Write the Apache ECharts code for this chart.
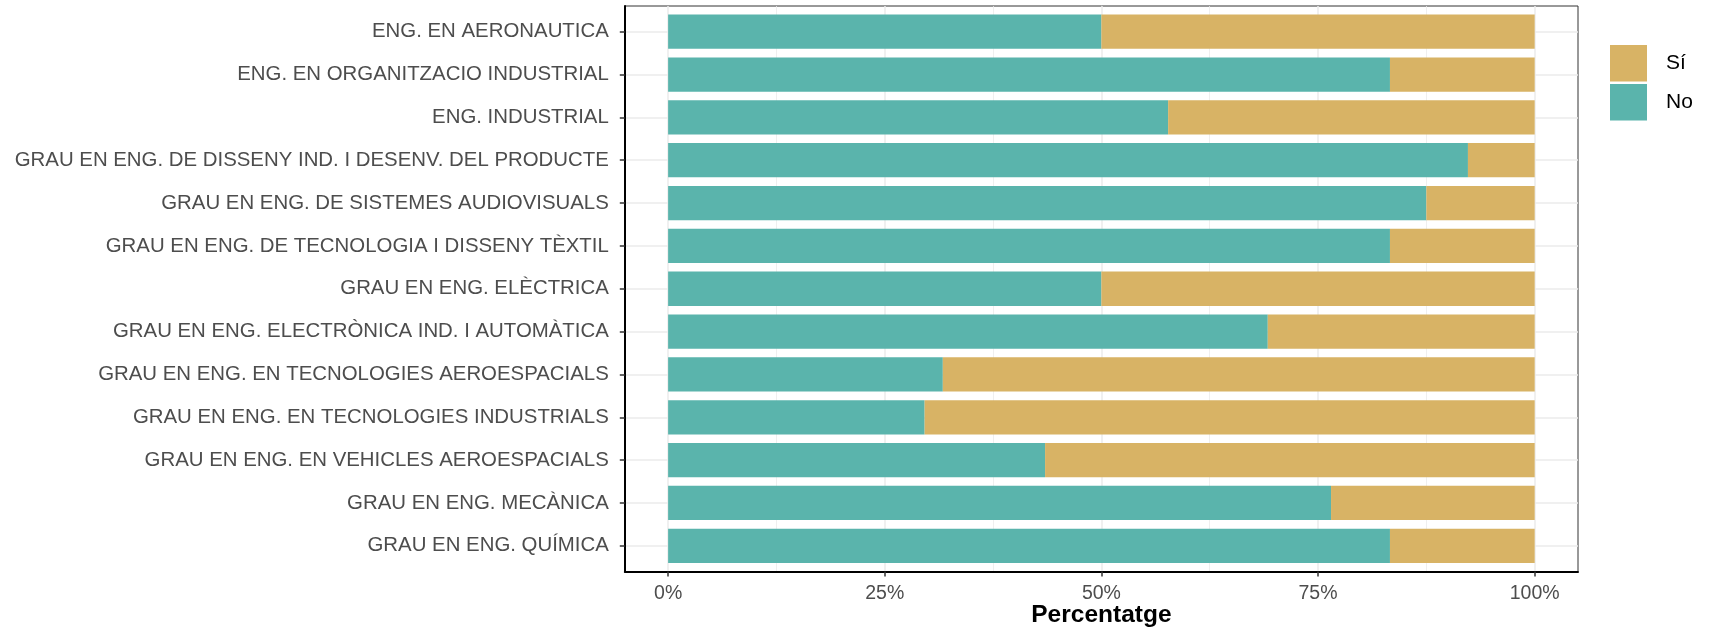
<!DOCTYPE html>
<html>
<head>
<meta charset="utf-8">
<script src="https://cdn.jsdelivr.net/npm/echarts@6/dist/echarts.min.js"></script>
<style>
html,body{margin:0;padding:0;background:#fff;}
#chart{width:1709px;height:632px;}
</style>
</head>
<body>
<div id="chart"></div>
<script>
const categories = [
  "ENG. EN AERONAUTICA",
  "ENG. EN ORGANITZACIO INDUSTRIAL",
  "ENG. INDUSTRIAL",
  "GRAU EN ENG. DE DISSENY IND. I DESENV. DEL PRODUCTE",
  "GRAU EN ENG. DE SISTEMES AUDIOVISUALS",
  "GRAU EN ENG. DE TECNOLOGIA I DISSENY TÈXTIL",
  "GRAU EN ENG. ELÈCTRICA",
  "GRAU EN ENG. ELECTRÒNICA IND. I AUTOMÀTICA",
  "GRAU EN ENG. EN TECNOLOGIES AEROESPACIALS",
  "GRAU EN ENG. EN TECNOLOGIES INDUSTRIALS",
  "GRAU EN ENG. EN VEHICLES AEROESPACIALS",
  "GRAU EN ENG. MECÀNICA",
  "GRAU EN ENG. QUÍMICA"
];
const noValues = [50, 83.3, 57.7, 92.3, 87.5, 83.3, 50, 69.2, 31.7, 29.6, 43.5, 76.5, 83.3];
const siValues = [50, 16.7, 42.3, 7.7, 12.5, 16.7, 50, 30.8, 68.3, 70.4, 56.5, 23.5, 16.7];
const xMajorTicks = [0, 25, 50, 75, 100];
const xMinorTicks = [12.5, 37.5, 62.5, 87.5];
const categoryPositions = [0, 1, 2, 3, 4, 5, 6, 7, 8, 9, 10, 11, 12];
const seriesNames = ["Sí", "No"];
const xAxisTitle = "Percentatge";

const FONT = "'Liberation Sans', Arial, Helvetica, sans-serif";
const panel = {left: 624.8, right: 131, top: 6, bottom: 60.5};
const band = (632 - panel.top - panel.bottom) / 13.2;

const chart = echarts.init(document.getElementById('chart'), null, {renderer: 'canvas'});
chart.setOption({
  animation: false,
  backgroundColor: '#ffffff',
  textStyle: {fontFamily: FONT},
  grid: [
    {left: panel.left, right: panel.right, top: panel.top, bottom: panel.bottom,
     show: true, borderColor: '#333333', borderWidth: 1, backgroundColor: '#ffffff',
     containLabel: false, outerBoundsMode: 'none'},
    {left: panel.left, right: panel.right, top: panel.top + 0.1 * band, bottom: panel.bottom + 0.1 * band,
     containLabel: false, outerBoundsMode: 'none'}
  ],
  legend: {
    data: seriesNames,
    orient: 'vertical',
    left: 1610, top: 45,
    itemWidth: 37, itemHeight: 36.5, itemGap: 2.5,
    icon: 'rect',
    padding: 0,
    selectedMode: false,
    textStyle: {fontFamily: FONT, fontSize: 21, color: '#000000', padding: [0, 0, 0, 14]}
  },
  xAxis: [
    {gridIndex: 0, type: 'value', position: 'bottom', min: -5, max: 105,
     axisLine: {show: true, onZero: false, lineStyle: {color: '#000000', width: 2}},
     axisTick: {show: true, length: 5, customValues: xMajorTicks, lineStyle: {color: '#333333', width: 1.5}},
     axisLabel: {show: true, customValues: xMajorTicks, formatter: '{value}%', color: '#4d4d4d', fontSize: 19.5, margin: 12, fontFamily: FONT},
     splitLine: {show: true, lineStyle: {color: '#ebebeb', width: 1.5}},
     name: xAxisTitle, nameLocation: 'middle', nameGap: 31, nameMoveOverlap: false,
     nameTextStyle: {fontFamily: FONT, fontSize: 24.5, fontWeight: 'bold', color: '#000000'}
    },
    {gridIndex: 0, type: 'value', position: 'bottom', min: -5, max: 105,
     axisLine: {show: false}, axisLabel: {show: false},
     axisTick: {show: false, customValues: xMinorTicks},
     splitLine: {show: true, lineStyle: {color: '#ebebeb', width: 0.8}}
    },
    {gridIndex: 1, type: 'value', min: -5, max: 105, show: false}
  ],
  yAxis: [
    {gridIndex: 0, type: 'value', min: -0.6, max: 12.6, inverse: true, position: 'left',
     axisLine: {show: true, onZero: false, lineStyle: {color: '#000000', width: 2}},
     axisTick: {show: true, length: 5, customValues: categoryPositions, lineStyle: {color: '#333333', width: 1.5}},
     axisLabel: {show: true, customValues: categoryPositions, margin: 16, color: '#4d4d4d', fontSize: 20.4, fontFamily: FONT,
                 formatter: function (v) { return categories[Math.round(v)]; }},
     splitLine: {show: true, lineStyle: {color: '#ebebeb', width: 1.5}}
    },
    {gridIndex: 1, type: 'category', data: categories, inverse: true, show: false}
  ],
  series: [
    {name: 'No', type: 'bar', stack: 'total', xAxisIndex: 2, yAxisIndex: 1, data: noValues,
     barWidth: '80%', itemStyle: {color: '#5ab4ac'}, emphasis: {disabled: true}},
    {name: 'Sí', type: 'bar', stack: 'total', xAxisIndex: 2, yAxisIndex: 1, data: siValues,
     barWidth: '80%', itemStyle: {color: '#d8b365'}, emphasis: {disabled: true}}
  ]
});
</script>
</body>
</html>
